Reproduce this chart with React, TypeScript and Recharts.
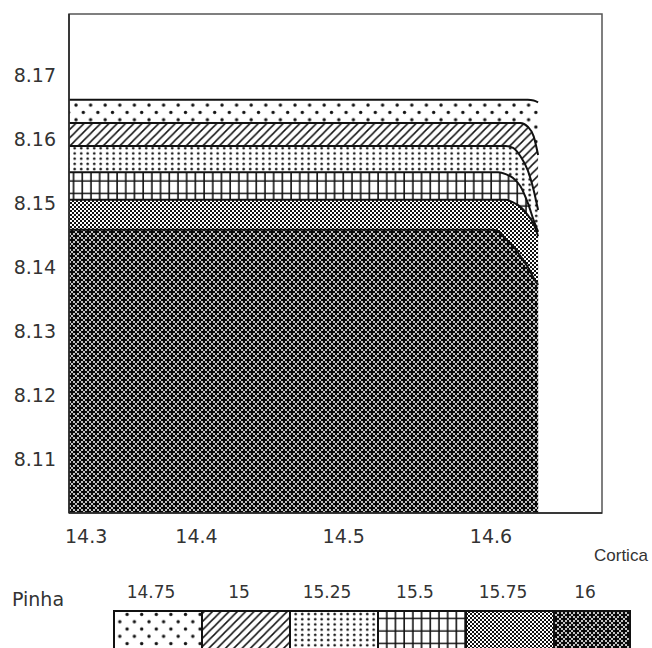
import { Area, ComposedChart, Legend, ReferenceArea, XAxis, YAxis } from "recharts";

// contour levels of Pinha over Cortica (x) and the vertical variable
const levels = ["14.75", "15", "15.25", "15.5", "15.75", "16"];
const corticaX = [14.31, 14.6, 14.605, 14.61, 14.615, 14.62, 14.625, 14.629, 14.632];
const pinha1475 = [8.1661, 8.1661, 8.1661, 8.1661, 8.1661, 8.1661, 8.1661, 8.166, 8.1657];
const pinha15 = [8.1625, 8.1625, 8.1625, 8.1625, 8.1625, 8.1625, 8.1619, 8.1604, 8.1575];
const pinha1525 = [8.1589, 8.1589, 8.1589, 8.1589, 8.1586, 8.1573, 8.1551, 8.152, 8.1489];
const pinha155 = [8.1548, 8.1548, 8.1548, 8.1545, 8.1539, 8.1526, 8.15, 8.1473, 8.1455];
const pinha1575 = [8.1505, 8.1505, 8.1505, 8.1505, 8.1501, 8.1494, 8.1481, 8.1467, 8.1448];
const pinha16 = [8.1458, 8.1458, 8.1456, 8.1444, 8.1433, 8.1417, 8.14, 8.1383, 8.1372];

const xTicks = [14.3, 14.4, 14.5, 14.6];
const yTicks = [8.11, 8.12, 8.13, 8.14, 8.15, 8.16, 8.17];
const X_DOMAIN = [14.3134, 14.6754];
const Y_DOMAIN = [8.1016, 8.1795];

const series = [pinha1475, pinha15, pinha1525, pinha155, pinha1575, pinha16];
const patternIds = ["patSparse", "patDiag", "patDense", "patGrid", "patFine", "patStar"];

const data = corticaX.map((x, i) => {
    const row: Record<string, number> = { x };
    series.forEach((s, k) => { row["p" + k] = s[i]; });
    return row;
});

const FONT = "'DejaVu Sans', Verdana, sans-serif";

function Patterns() {
    return (
        <defs>
            <pattern id="patSparse" patternUnits="userSpaceOnUse" width="14.6" height="14.6">
                <rect width="14.6" height="14.6" fill="#fff" />
                <circle cx="3" cy="3" r="1.7" fill="#111" />
                <circle cx="10.3" cy="10.3" r="1.7" fill="#111" />
            </pattern>
            <pattern id="patDiag" patternUnits="userSpaceOnUse" width="8.3" height="8.3">
                <rect width="8.3" height="8.3" fill="#fff" />
                <path d="M-1,9.3 L9.3,-1 M-2,2 L2,-2 M6.3,10.3 L10.3,6.3" stroke="#111" strokeWidth="1.5" />
            </pattern>
            <pattern id="patDense" patternUnits="userSpaceOnUse" width="6.5" height="5.2">
                <rect width="6.5" height="5.2" fill="#fff" />
                <circle cx="3.2" cy="2.6" r="1.3" fill="#111" />
            </pattern>
            <pattern id="patGrid" patternUnits="userSpaceOnUse" width="8.7" height="12.5">
                <rect width="8.7" height="12.5" fill="#fff" />
                <path d="M4,0 V12.5 M0,6 H8.7" stroke="#111" strokeWidth="1.6" />
            </pattern>
            <pattern id="patFine" patternUnits="userSpaceOnUse" width="4" height="4">
                <rect width="4" height="4" fill="#fff" />
                <rect x="0" y="0" width="2" height="2" fill="#111" />
                <rect x="2" y="2" width="2" height="2" fill="#111" />
            </pattern>
            <pattern id="patStar" patternUnits="userSpaceOnUse" width="8" height="8">
                <rect width="8" height="8" fill="#0a0a0a" />
                <circle cx="2" cy="2" r="1" fill="#fff" />
                <circle cx="6" cy="2" r="1" fill="#fff" />
                <circle cx="2" cy="6" r="1" fill="#fff" />
                <circle cx="6" cy="6" r="1" fill="#fff" />
                <circle cx="4" cy="0" r="1" fill="#fff" />
                <circle cx="4" cy="8" r="1" fill="#fff" />
                <circle cx="0" cy="4" r="1" fill="#fff" />
                <circle cx="8" cy="4" r="1" fill="#fff" />
            </pattern>
        </defs>
    );
}

function CorticaTick(props: any) {
    const { x, y, payload } = props;
    // the first label sits at the left edge of the plot
    const outside = payload.value < X_DOMAIN[0];
    return (
        <text x={outside ? 65 : x} y={y} dy="0.71em" textAnchor={outside ? "start" : "middle"}
              fontSize={19} fontFamily={FONT} fill="#333">
            {payload.value}
        </text>
    );
}

function PinhaLegend() {
    const step = 88;
    const startX = 114;
    const endX = 630;
    return (
        <svg width={652} height={80} style={{ display: "block", overflow: "visible" }}>
            <text x={12} y={31} fontSize={19} fontFamily={FONT} fill="#333">Pinha</text>
            {levels.map((lv, i) => {
                const bx = startX + i * step;
                const bw = Math.min(step, endX - bx);
                return (
                    <g key={lv}>
                        <text x={bx + bw / 2 - 7} y={23} textAnchor="middle"
                              fontSize={17} fontFamily={FONT} fill="#333">{lv}</text>
                        <rect x={bx} y={36} width={bw} height={44}
                              fill={`url(#${patternIds[i]})`} stroke="#111" strokeWidth={2} />
                    </g>
                );
            })}
        </svg>
    );
}

export default function App() {
    return (
        <div style={{ position: "absolute", left: 0, top: 0, width: 652, height: 648, background: "#fff", overflow: "hidden" }}>
            <ComposedChart width={652} height={648} data={data}
                           margin={{ top: 14, right: 50, left: 0, bottom: 75 }}>
                <Patterns />
                <XAxis dataKey="x" type="number" domain={X_DOMAIN} allowDataOverflow ticks={xTicks}
                       interval={0} height={60} tickSize={0} tickMargin={17} tickLine={false}
                       axisLine={{ stroke: "#222", strokeWidth: 1.5 }} tick={<CorticaTick />}
                       label={(p: any) => (
                           <text x={p.viewBox.x + p.viewBox.width - 8} y={p.viewBox.y + 48}
                                 fontSize={17} fontFamily="'Liberation Sans', Arial, sans-serif" fill="#333">
                               Cortica
                           </text>
                       )} />
                <YAxis type="number" domain={Y_DOMAIN} allowDataOverflow ticks={yTicks} interval={0}
                       width={69} tickSize={0} tickMargin={13} tickLine={false}
                       axisLine={{ stroke: "#222", strokeWidth: 1.5 }}
                       tick={{ fontSize: 19, fontFamily: FONT, fill: "#333" }} />
                {levels.map((lv, k) => (
                    <Area key={lv} name={lv} dataKey={"p" + k} type="monotone" baseValue="dataMin"
                          stroke="#111" strokeWidth={2} fill={`url(#${patternIds[k]})`} fillOpacity={1}
                          dot={false} activeDot={false} isAnimationActive={false} legendType="rect" />
                ))}
                <ReferenceArea x1={X_DOMAIN[0]} x2={X_DOMAIN[1]} y1={Y_DOMAIN[0]} y2={Y_DOMAIN[1]}
                               fill="none" stroke="#555" strokeWidth={1.5} fillOpacity={0} />
                <Legend content={<PinhaLegend />}
                        wrapperStyle={{ position: "absolute", left: 0, top: 575, width: 652, height: 0 }} />
            </ComposedChart>
        </div>
    );
}
